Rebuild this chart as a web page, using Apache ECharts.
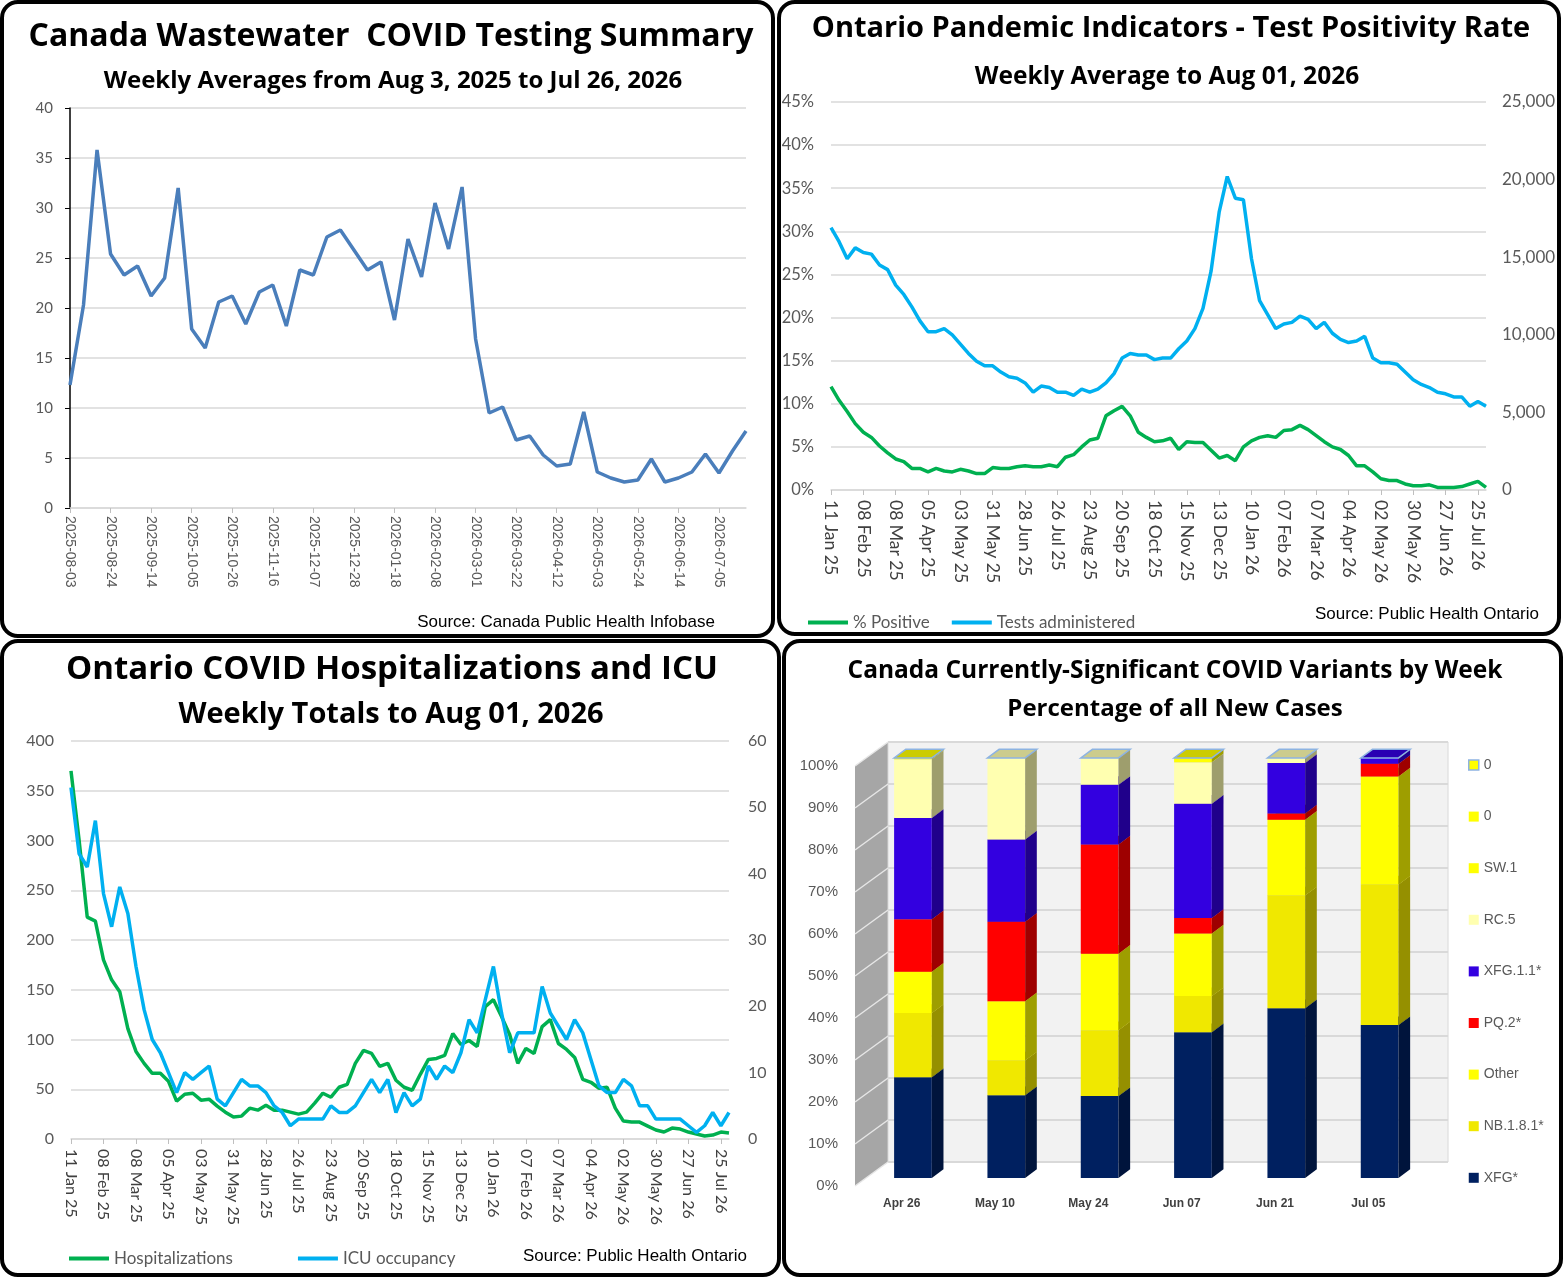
<!DOCTYPE html>
<html>
<head>
<meta charset="utf-8">
<script src="https://cdn.jsdelivr.net/npm/echarts@6/dist/echarts.min.js"></script>
<style>
  html, body { margin: 0; padding: 0; background: #fff; }
  #main { width: 1564px; height: 1278px; }
</style>
</head>
<body>
<div id="main"></div>
<script>
// wastewater weekly averages
const wwDates = ['2025-08-03','2025-08-10','2025-08-17','2025-08-24','2025-08-31','2025-09-07','2025-09-14','2025-09-21','2025-09-28','2025-10-05',
  '2025-10-12','2025-10-19','2025-10-26','2025-11-02','2025-11-09','2025-11-16','2025-11-23','2025-11-30','2025-12-07','2025-12-14',
  '2025-12-21','2025-12-28','2026-01-04','2026-01-11','2026-01-18','2026-01-25','2026-02-01','2026-02-08','2026-02-15','2026-02-22',
  '2026-03-01','2026-03-08','2026-03-15','2026-03-22','2026-03-29','2026-04-05','2026-04-12','2026-04-19','2026-04-26','2026-05-03',
  '2026-05-10','2026-05-17','2026-05-24','2026-05-31','2026-06-07','2026-06-14','2026-06-21','2026-06-28','2026-07-05','2026-07-12','2026-07-19'];
const wwLevels = [12.3,20.3,35.8,25.4,23.3,24.2,21.2,23.0,32.0,17.9,
  16.0,20.6,21.2,18.4,21.6,22.3,18.2,23.8,23.3,27.1,
  27.8,25.8,23.8,24.6,18.8,26.9,23.1,30.5,25.9,32.1,
  16.9,9.5,10.1,6.8,7.2,5.3,4.2,4.4,9.6,3.6,
  3.0,2.6,2.8,4.9,2.6,3.0,3.6,5.4,3.5,5.7,7.7];

// ontario weeks
const onWeeks = ['11 Jan 25','18 Jan 25','25 Jan 25','01 Feb 25','08 Feb 25','15 Feb 25','22 Feb 25','01 Mar 25','08 Mar 25','15 Mar 25',
  '22 Mar 25','29 Mar 25','05 Apr 25','12 Apr 25','19 Apr 25','26 Apr 25','03 May 25','10 May 25','17 May 25','24 May 25',
  '31 May 25','07 Jun 25','14 Jun 25','21 Jun 25','28 Jun 25','05 Jul 25','12 Jul 25','19 Jul 25','26 Jul 25','02 Aug 25',
  '09 Aug 25','16 Aug 25','23 Aug 25','30 Aug 25','06 Sep 25','13 Sep 25','20 Sep 25','27 Sep 25','04 Oct 25','11 Oct 25',
  '18 Oct 25','25 Oct 25','01 Nov 25','08 Nov 25','15 Nov 25','22 Nov 25','29 Nov 25','06 Dec 25','13 Dec 25','20 Dec 25',
  '27 Dec 25','03 Jan 26','10 Jan 26','17 Jan 26','24 Jan 26','31 Jan 26','07 Feb 26','14 Feb 26','21 Feb 26','28 Feb 26',
  '07 Mar 26','14 Mar 26','21 Mar 26','28 Mar 26','04 Apr 26','11 Apr 26','18 Apr 26','25 Apr 26','02 May 26','09 May 26',
  '16 May 26','23 May 26','30 May 26','06 Jun 26','13 Jun 26','20 Jun 26','27 Jun 26','04 Jul 26','11 Jul 26','18 Jul 26',
  '25 Jul 26','01 Aug 26'];

const pctPositive = [12.0,10.4,9.1,7.7,6.7,6.1,5.1,4.3,3.6,3.3,
  2.5,2.5,2.1,2.5,2.2,2.1,2.4,2.2,1.9,1.9,
  2.6,2.5,2.5,2.7,2.8,2.7,2.7,2.9,2.7,3.8,
  4.1,5.0,5.8,6.0,8.6,9.2,9.7,8.6,6.7,6.1,
  5.6,5.7,6.0,4.7,5.6,5.5,5.5,4.6,3.7,4.0,
  3.4,5.0,5.7,6.1,6.3,6.1,6.9,7.0,7.5,7.0,
  6.3,5.6,5.0,4.7,4.0,2.8,2.8,2.1,1.3,1.1,
  1.1,0.7,0.5,0.5,0.6,0.3,0.3,0.3,0.4,0.7,
  1.0,0.3];
const testsAdministered = [16900,16000,14900,15600,15300,15200,14500,14200,13200,12600,
  11800,10900,10200,10200,10400,10000,9400,8800,8300,8000,
  8000,7600,7300,7200,6900,6300,6700,6600,6300,6300,
  6100,6500,6300,6500,6900,7500,8500,8800,8700,8700,
  8400,8500,8500,9100,9600,10400,11700,14100,17900,20200,
  18800,18700,14900,12200,11300,10400,10700,10800,11200,11000,
  10400,10800,10100,9700,9500,9600,9900,8500,8200,8200,
  8100,7600,7100,6800,6600,6300,6200,6000,6000,5400,
  5700,5400];

const hospitalizations = [370,300,223,219,180,160,148,111,88,76,
  66,66,58,38,45,46,39,40,33,27,
  22,23,31,29,34,29,29,27,25,27,
  36,46,42,52,55,76,89,86,73,76,
  59,52,49,65,80,81,84,106,95,99,
  93,133,140,123,105,76,91,86,113,120,
  96,90,82,60,57,51,52,31,18,17,
  17,13,9,7,11,10,7,5,3,4,
  7,6];
const icuOccupancy = [53,43,41,48,37,32,38,34,26,19.5,
  15,13,10,7,10,9,10,11,6,5,
  7,9,8,8,7,5,4,2,3,3,
  3,3,5,4,4,5,7,9,7,9,
  4,7,5,6,11,9,11,10,13,18,
  16,21,26,19,13,16,16,16,23,19,
  17,15,18,16,12,8,7,7,9,8,
  5,5,3,3,3,3,2,1,2,4,
  2,4];

// variants, % of new cases (bottom of stack first)
const variantWeeks = ['Apr 26','May 10','May 24','Jun 07','Jun 21','Jul 05'];
const xfg      = [24.0,19.7,19.5,34.7,40.4,36.4];
const nb181    = [15.3,8.3,15.7,8.6,26.9,33.5];
const other    = [9.8,14.1,18.2,14.9,18.0,25.7];
const pq2      = [12.5,18.9,26.0,3.7,1.5,3.0];
const xfg11    = [24.1,19.6,14.2,27.2,12.0,1.4];
const rc5      = [14.0,19.4,6.4,9.9,1.2,0];
const sw1      = [0.3,0,0,1.0,0,0];
const zeroB    = [0,0,0,0,0,0];
const zeroA    = [0,0,0,0,0,0];
const pctTicks = [0,10,20,30,40,50,60,70,80,90,100];

const variants = [
  {name:'XFG*', data:xfg, color:'#002060'},
  {name:'NB.1.8.1*', data:nb181, color:'#f0e800'},
  {name:'Other', data:other, color:'#ffff00'},
  {name:'PQ.2*', data:pq2, color:'#ff0000'},
  {name:'XFG.1.1*', data:xfg11, color:'#3300e0'},
  {name:'RC.5', data:rc5, color:'#ffffb0'},
  {name:'SW.1', data:sw1, color:'#ffff00'},
  {name:'0 ', data:zeroB, color:'#ffff00'},
  {name:'0', data:zeroA, color:'#ffff00', outline:'#8db3e2'}
];

//颜色加深
function shade(hex, f) {
  let n = parseInt(hex.slice(1), 16);
  let r = Math.round(((n >> 16) & 255) * f);
  let g = Math.round(((n >> 8) & 255) * f);
  let b = Math.round((n & 255) * f);
  return 'rgb(' + r + ',' + g + ',' + b + ')';
}

// 3d offsets as share of the category band
const BAR_W = 0.404, BAR_OFF = [0.121, -0.086], BAR_DEPTH = [0.125, -0.093], WALL = [0.354, -0.257];

function renderWalls(params, api) {
  let cs = params.coordSys;
  let band = api.size([1, 0])[0];
  let wx = band * WALL[0], wy = band * WALL[1];
  let bottom = cs.y + cs.height;
  let children = [];
  children.push({type:'polygon', shape:{points:[[cs.x,bottom],[cs.x,cs.y],[cs.x+wx,cs.y+wy],[cs.x+wx,bottom+wy]]},
    style:{fill:'#a6a6a6'}});
  children.push({type:'rect', shape:{x:cs.x+wx, y:cs.y+wy, width:cs.width, height:cs.height},
    style:{fill:'#f2f2f2', stroke:'#d9d9d9', lineWidth:1}});
  for (let v of pctTicks) {
    let y = api.coord([0, v])[1];
    children.push({type:'line', shape:{x1:cs.x+wx, y1:y+wy, x2:cs.x+wx+cs.width, y2:y+wy},
      style:{stroke:'#d9d9d9', lineWidth:2}});
    children.push({type:'line', shape:{x1:cs.x, y1:y, x2:cs.x+wx, y2:y+wy},
      style:{stroke:'#e6e6e6', lineWidth:1.5}});
  }
  return {type:'group', children: children};
}

function makeBarRender(v) {
  return function (params, api) {
    let cat = api.value(0), s = api.value(1), e = api.value(2);
    let band = api.size([1, 0])[0];
    let w = band * BAR_W;
    let ox = band * BAR_OFF[0], oy = band * BAR_OFF[1];
    let dx = band * BAR_DEPTH[0], dy = band * BAR_DEPTH[1];
    let p0 = api.coord([cat, s]);
    let p1 = api.coord([cat, e]);
    let x0 = p0[0] - w / 2 + ox;
    let yb = p0[1] + oy, yt = p1[1] + oy;
    let topPts = [[x0, yt],[x0+w, yt],[x0+w+dx, yt+dy],[x0+dx, yt+dy]];
    if (v.outline) {
      return {type:'group', children:[
        {type:'polygon', shape:{points:topPts}, style:{fill:'none', stroke:v.outline, lineWidth:1.5}}
      ]};
    }
    if (e - s <= 0) return {type:'group', children:[]};
    return {type:'group', children:[
      {type:'rect', shape:{x:x0, y:yt, width:w, height:yb-yt}, style:{fill:v.color}},
      {type:'polygon', shape:{points:[[x0+w, yb],[x0+w, yt],[x0+w+dx, yt+dy],[x0+w+dx, yb+dy]]},
        style:{fill:shade(v.color, 0.62)}},
      {type:'polygon', shape:{points:topPts}, style:{fill:shade(v.color, 0.8)}}
    ]};
  };
}

// 堆叠
let base = variantWeeks.map(() => 0);
let variantSeries = variants.map(function (v) {
  let data = v.data.map(function (val, i) {
    let item = [i, base[i], base[i] + val];
    base[i] += val;
    return item;
  });
  return {
    name: v.name, type: 'custom', xAxisIndex: 3, yAxisIndex: 5,
    renderItem: makeBarRender(v), data: data, encode: {x: 0, y: [1, 2]},
    itemStyle: {color: v.color}, silent: true
  };
});

const lblFont = 'Lato';
const chart = echarts.init(document.getElementById('main'), null, {renderer: 'canvas'});

function panel(x, y, w, h) {
  return {type:'rect', shape:{x:x, y:y, width:w, height:h, r:16}, style:{fill:'none', stroke:'#000', lineWidth:4}, z:100};
}
function source(text, x, y) {
  return {type:'text', x:x, y:y, style:{text:text, textAlign:'center', textVerticalAlign:'middle',
    font:'17px "Liberation Sans Narrow", "Liberation Sans", sans-serif', fill:'#000'}, z:100};
}
function ttl(text, cx, top, size) {
  return {text:text, left:cx, top:top, textAlign:'center',
    textStyle:{fontFamily:'Open Sans', fontWeight:'bold', fontSize:size, color:'#000'}};
}

let option = {
  animation: false,
  backgroundColor: '#fff',
  textStyle: {fontFamily: lblFont},
  title: [
    ttl('Canada Wastewater  COVID Testing Summary', 386, 16, 32),
    ttl('Weekly Averages from Aug 3, 2025 to Jul 26, 2026', 388, 64, 24),
    ttl('Ontario Pandemic Indicators - Test Positivity Rate', 1166, 9, 29),
    ttl('Weekly Average to Aug 01, 2026', 1162, 60, 24.5),
    ttl('Ontario COVID Hospitalizations and ICU', 387, 648, 33),
    ttl('Weekly Totals to Aug 01, 2026', 386, 695, 29),
    ttl('Canada Currently-Significant COVID Variants by Week', 1170, 654, 24.5),
    ttl('Percentage of all New Cases', 1170, 692, 24)
  ],
  legend: [
    {data:['% Positive','Tests administered'], left:803, top:609, orient:'horizontal',
      icon:'rect', itemWidth:40, itemHeight:4, itemGap:22,
      textStyle:{fontFamily:lblFont, fontSize:17, color:'#595959'}},
    {data:['Hospitalizations','ICU occupancy'], left:64, top:1245, orient:'horizontal',
      icon:'rect', itemWidth:40, itemHeight:4, itemGap:65,
      textStyle:{fontFamily:lblFont, fontSize:17, color:'#595959'}},
    {data:[{name:'0', itemStyle:{borderColor:'#8db3e2', borderWidth:1.5}},'0 ','SW.1','RC.5','XFG.1.1*','PQ.2*','Other','NB.1.8.1*','XFG*'],
      left:1463, top:753, orient:'vertical', icon:'rect', itemWidth:10, itemHeight:10, itemGap:37.6,
      textStyle:{fontFamily:'Liberation Sans', fontSize:14, lineHeight:14, color:'#595959'}}
  ],
  grid: [
    {left:70, top:108, width:676, height:400, outerBoundsMode:'none'},
    {left:831, top:102, width:655, height:388, outerBoundsMode:'none'},
    {left:71, top:741, width:658, height:398, outerBoundsMode:'none'},
    {left:855, top:766, width:560, height:420, outerBoundsMode:'none'}
  ],
  xAxis: [
    {type:'category', gridIndex:0, data:wwDates, boundaryGap:false,
      axisLine:{lineStyle:{color:'#d9d9d9', width:1.5}},
      axisTick:{interval:2, length:5, lineStyle:{color:'#bfbfbf'}},
      axisLabel:{interval:2, rotate:-90, margin:8, fontFamily:'Liberation Sans', fontSize:14, color:'#595959'}},
    {type:'category', gridIndex:1, data:onWeeks, boundaryGap:false,
      axisLine:{lineStyle:{color:'#d9d9d9', width:1.5}},
      axisTick:{interval:3, length:5, lineStyle:{color:'#bfbfbf'}},
      axisLabel:{interval:3, rotate:-90, margin:10, fontSize:17.5, color:'#404040'}},
    {type:'category', gridIndex:2, data:onWeeks, boundaryGap:false,
      axisLine:{lineStyle:{color:'#d9d9d9', width:1.5}},
      axisTick:{interval:3, length:5, lineStyle:{color:'#bfbfbf'}},
      axisLabel:{interval:3, rotate:-90, margin:10, fontSize:16, color:'#404040'}},
    {type:'category', gridIndex:3, data:variantWeeks,
      axisLine:{show:false}, axisTick:{show:false},
      axisLabel:{margin:12, fontFamily:'Liberation Sans', fontWeight:'bold', fontSize:12, color:'#404040'}}
  ],
  yAxis: [
    {type:'value', gridIndex:0, min:0, max:40, interval:5,
      axisLine:{show:true, lineStyle:{color:'#000', width:1.5}},
      axisTick:{show:true, length:5, lineStyle:{color:'#000'}},
      axisLabel:{margin:17, fontSize:15, color:'#595959'},
      splitLine:{lineStyle:{color:'#d9d9d9', width:1.5}}},
    {type:'value', gridIndex:1, min:0, max:45, interval:5,
      axisLine:{show:false}, axisTick:{show:false},
      axisLabel:{formatter:'{value}%', margin:17, fontSize:16.5, color:'#595959'},
      splitLine:{lineStyle:{color:'#d9d9d9', width:1.5}}},
    {type:'value', gridIndex:1, position:'right', min:0, max:25000, interval:5000,
      axisLine:{show:false}, axisTick:{show:false}, splitLine:{show:false},
      axisLabel:{formatter: v => v.toLocaleString('en-US'), margin:16, fontSize:17, color:'#595959'}},
    {type:'value', gridIndex:2, min:0, max:400, interval:50,
      axisLine:{show:false}, axisTick:{show:false},
      axisLabel:{margin:17, fontSize:16, color:'#595959'},
      splitLine:{lineStyle:{color:'#d9d9d9', width:1.5}}},
    {type:'value', gridIndex:2, position:'right', min:0, max:60, interval:10,
      axisLine:{show:false}, axisTick:{show:false}, splitLine:{show:false},
      axisLabel:{margin:19, fontSize:16, color:'#595959'}},
    {type:'value', gridIndex:3, min:0, max:100, interval:10,
      axisLine:{show:false}, axisTick:{show:false}, splitLine:{show:false},
      axisLabel:{formatter:'{value}%', margin:17, fontFamily:'Liberation Sans', fontSize:15, color:'#595959'}}
  ],
  series: [
    {name:'Wastewater', type:'line', xAxisIndex:0, yAxisIndex:0, data:wwLevels, showSymbol:false,
      lineStyle:{color:'#4a7ebb', width:3.5}, itemStyle:{color:'#4a7ebb'}},
    {name:'% Positive', type:'line', xAxisIndex:1, yAxisIndex:1, data:pctPositive, showSymbol:false,
      lineStyle:{color:'#00b050', width:3.5}, itemStyle:{color:'#00b050'}},
    {name:'Tests administered', type:'line', xAxisIndex:1, yAxisIndex:2, data:testsAdministered, showSymbol:false,
      lineStyle:{color:'#00b0f0', width:3.5}, itemStyle:{color:'#00b0f0'}},
    {name:'Hospitalizations', type:'line', xAxisIndex:2, yAxisIndex:3, data:hospitalizations, showSymbol:false,
      lineStyle:{color:'#00b050', width:3.5}, itemStyle:{color:'#00b050'}},
    {name:'ICU occupancy', type:'line', xAxisIndex:2, yAxisIndex:4, data:icuOccupancy, showSymbol:false,
      lineStyle:{color:'#00b0f0', width:3.5}, itemStyle:{color:'#00b0f0'}},
    {name:'walls', type:'custom', xAxisIndex:3, yAxisIndex:5, data:[[0, 0]], encode:{x:0, y:1},
      renderItem: renderWalls, silent:true, z:1}
  ].concat(variantSeries),
  graphic: [
    panel(2, 2, 771, 634),
    panel(779, 2, 780, 632),
    panel(2, 641, 777, 634),
    panel(784, 641, 777, 634),
    source('Source: Canada Public Health Infobase', 566, 622),
    source('Source: Public Health Ontario', 1427, 614),
    source('Source: Public Health Ontario', 635, 1256)
  ]
};

chart.setOption(option);
</script>
</body>
</html>
